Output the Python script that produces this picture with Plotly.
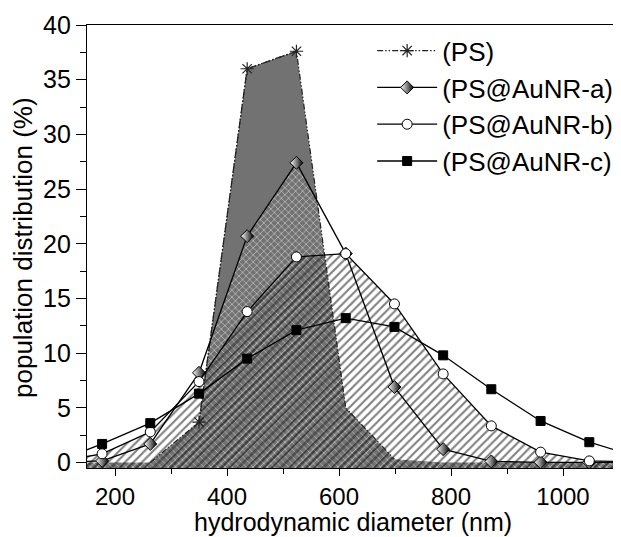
import plotly.graph_objects as go

# ---- data ----
diameter = [90, 177, 263, 350, 436, 524, 612, 699, 786, 872, 960, 1047, 1134]
ps       = [0, 0, 0, 3.7, 36.0, 37.6, 5.0, 0.3, 0, 0, 0, 0, 0]
aunr_a   = [0, 0.15, 1.7, 8.2, 20.7, 27.4, 19.1, 6.9, 1.22, 0.1, 0.02, 0, 0]
aunr_b   = [0, 0.8, 2.8, 7.4, 13.8, 18.8, 19.1, 14.5, 8.1, 3.35, 0.95, 0.15, 0.05]
aunr_c   = [0, 1.7, 3.6, 6.3, 9.5, 12.1, 13.2, 12.4, 9.8, 6.7, 3.8, 1.86, 0.5]

names = ["(PS)", "(PS@AuNR-a)", "(PS@AuNR-b)", "(PS@AuNR-c)"]
x_ticks = [200, 400, 600, 800, 1000]
y_ticks = [0, 5, 10, 15, 20, 25, 30, 35, 40]
x_title = "hydrodynamic diameter (nm)"
y_title = "population distribution (%)"

X_RANGE = [150, 1100]
Y_RANGE = [-0.5, 40]
FONT = "Liberation Sans, Arial, sans-serif"

fig = go.Figure()

def floor_trace():
    return go.Scatter(x=diameter, y=[Y_RANGE[0]] * len(diameter), mode="lines",
                      line=dict(width=0), hoverinfo="skip", showlegend=False)

# --- area fills (drawn first, under all lines) ---
fig.add_trace(floor_trace())
fig.add_trace(go.Scatter(x=diameter, y=ps, mode="lines", line=dict(width=0),
                         fill="tonexty", fillcolor="#727272",
                         hoverinfo="skip", showlegend=False))
fig.add_trace(floor_trace())
fig.add_trace(go.Scatter(x=diameter, y=aunr_a, mode="lines", line=dict(width=0),
                         fill="tonexty", fillcolor="rgba(0,0,0,0)",
                         fillpattern=dict(shape="x", fgcolor="#ffffff", bgcolor="rgba(0,0,0,0)",
                                          size=5, solidity=0.3),
                         hoverinfo="skip", showlegend=False))
fig.add_trace(floor_trace())
fig.add_trace(go.Scatter(x=diameter, y=aunr_b, mode="lines", line=dict(width=0),
                         fill="tonexty", fillcolor="rgba(0,0,0,0)",
                         fillpattern=dict(shape="/", fgcolor="#000000", bgcolor="rgba(0,0,0,0)",
                                          size=6, solidity=0.35),
                         hoverinfo="skip", showlegend=False))

# --- lines and markers ---
ps_dash = "6px,2px,1.5px,2px,1.5px,2px"
fig.add_trace(go.Scatter(
    x=diameter[2:8], y=ps[2:8], mode="lines",
    line=dict(color="#222222", width=1.2, dash=ps_dash),
    hoverinfo="skip", showlegend=False))
fig.add_trace(go.Scatter(
    x=diameter[3:6], y=ps[3:6], name=names[0], mode="lines+markers",
    line=dict(color="#222222", width=1.2, dash=ps_dash),
    marker=dict(symbol="asterisk-open", size=11, line=dict(color="#333333", width=1.2))))
fig.add_trace(go.Scatter(
    x=diameter, y=aunr_a, name=names[1], mode="lines+markers",
    line=dict(color="black", width=1.3),
    marker=dict(symbol="diamond", size=10, color="white",
                gradient=dict(type="horizontal", color="black"),
                line=dict(color="black", width=1))))
fig.add_trace(go.Scatter(
    x=diameter, y=aunr_b, name=names[2], mode="lines+markers",
    line=dict(color="black", width=1.3),
    marker=dict(symbol="circle", size=10, color="white",
                line=dict(color="black", width=1))))
fig.add_trace(go.Scatter(
    x=diameter, y=aunr_c, name=names[3], mode="lines+markers",
    line=dict(color="black", width=1.3),
    marker=dict(symbol="square", size=9, color="black",
                line=dict(color="black", width=1))))

axis_common = dict(showline=True, linecolor="black", linewidth=1.2, mirror=True,
                   ticks="outside", tickcolor="black", tickwidth=1.2,
                   showgrid=False, zeroline=False)

fig.update_xaxes(range=X_RANGE, tickvals=x_ticks, ticklen=7,
                 tickfont=dict(family=FONT, size=24, color="black"),
                 minor=dict(dtick=100, tick0=0, ticks="outside", ticklen=5,
                            tickcolor="black", tickwidth=1.2),
                 **axis_common)
fig.update_yaxes(range=Y_RANGE, tickvals=y_ticks, ticklen=10,
                 tickfont=dict(family=FONT, size=25, color="black"),
                 minor=dict(dtick=2.5, tick0=0, ticks="outside", ticklen=6,
                            tickcolor="black", tickwidth=1.2),
                 **axis_common)

# the page body adds an 8px margin, so the figure is sized/offset to compensate
fig.update_layout(
    width=613, height=529,
    margin=dict(l=79, r=2, t=17, b=69, autoexpand=False),
    paper_bgcolor="white", plot_bgcolor="white",
    font=dict(family=FONT, color="black"),
    legend=dict(x=0.536, y=0.995, xanchor="left", yanchor="top",
                traceorder="normal",
                bgcolor="rgba(0,0,0,0)", borderwidth=0,
                font=dict(family=FONT, size=26, color="black"),
                itemwidth=60, tracegroupgap=0),
    annotations=[
        dict(text=x_title, xref="paper", yref="paper", x=0.5, y=-0.122,
             xanchor="center", yanchor="middle", showarrow=False,
             font=dict(family=FONT, size=25, color="black")),
        dict(text=y_title, xref="paper", yref="paper", x=-0.12, y=0.497,
             xanchor="center", yanchor="middle", textangle=-90, showarrow=False,
             font=dict(family=FONT, size=26, color="black")),
    ],
)

fig.write_html("out.html")
